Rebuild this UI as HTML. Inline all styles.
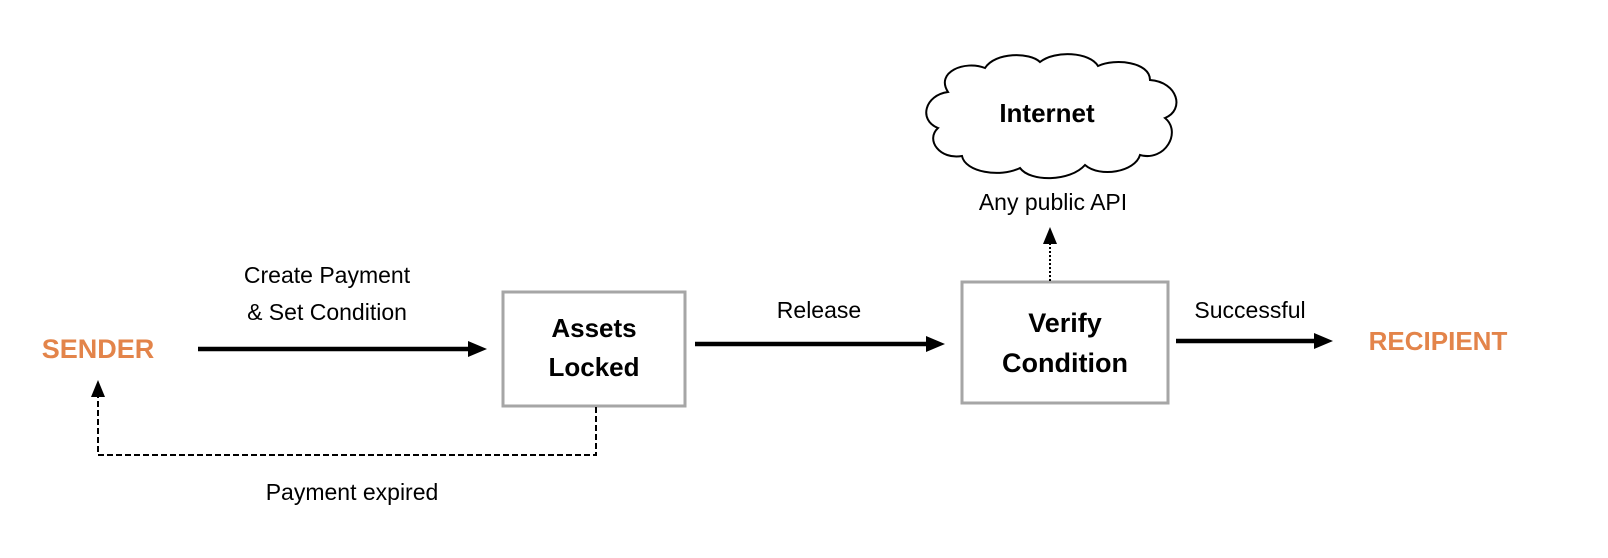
<!DOCTYPE html>
<html><head><meta charset="utf-8"><style>
html,body{margin:0;padding:0;background:#fff;}
svg{display:block;}
text{font-family:"Liberation Sans",sans-serif;}
</style></head><body>
<svg width="1608" height="558" viewBox="0 0 1608 558" xmlns="http://www.w3.org/2000/svg">
<text x="98" y="358" text-anchor="middle" font-size="27" font-weight="bold" fill="#E3844A">SENDER</text>
<line x1="198" y1="349" x2="472" y2="349" stroke="#000" stroke-width="4.5"/>
<polygon points="468,341 487,349 468,357" fill="#000"/>
<text x="327" y="283" text-anchor="middle" font-size="23">Create Payment</text>
<text x="327" y="320" text-anchor="middle" font-size="23">&amp; Set Condition</text>
<rect x="503" y="292" width="182" height="114" fill="#fff" stroke="#a6a6a6" stroke-width="3"/>
<text x="594" y="337" text-anchor="middle" font-size="26" font-weight="bold">Assets</text>
<text x="594" y="376" text-anchor="middle" font-size="26" font-weight="bold">Locked</text>
<polyline points="596,407 596,455 98,455 98,396" fill="none" stroke="#000" stroke-width="2" stroke-dasharray="6,3"/>
<polygon points="91,397 98,380 105,397" fill="#000"/>
<text x="352" y="500" text-anchor="middle" font-size="23">Payment expired</text>
<line x1="695" y1="344" x2="930" y2="344" stroke="#000" stroke-width="4.5"/>
<polygon points="926,336 945,344 926,352" fill="#000"/>
<text x="819" y="318" text-anchor="middle" font-size="23">Release</text>
<rect x="962" y="282" width="206" height="121" fill="#fff" stroke="#a6a6a6" stroke-width="3"/>
<text x="1065" y="332" text-anchor="middle" font-size="27" font-weight="bold">Verify</text>
<text x="1065" y="372" text-anchor="middle" font-size="27" font-weight="bold">Condition</text>
<line x1="1050" y1="281" x2="1050" y2="243" stroke="#000" stroke-width="2" stroke-dasharray="2,2"/>
<polygon points="1043,244 1050,227 1057,244" fill="#000"/>
<text x="1053" y="210" text-anchor="middle" font-size="23">Any public API</text>
<path d="M948,92 C935,72 965,60 985,68 C995,52 1030,52 1040,62 C1055,50 1090,52 1098,66 C1115,58 1150,62 1150,80 C1178,82 1185,110 1165,118 C1182,132 1165,162 1140,155 C1135,172 1100,178 1085,165 C1070,182 1030,182 1020,168 C1000,178 965,172 962,156 C940,160 925,140 938,128 C918,120 925,95 948,92 Z" fill="#fff" stroke="#000" stroke-width="2"/>
<text x="1047" y="122" text-anchor="middle" font-size="26" font-weight="bold">Internet</text>
<line x1="1176" y1="341" x2="1318" y2="341" stroke="#000" stroke-width="4.5"/>
<polygon points="1314,333 1333,341 1314,349" fill="#000"/>
<text x="1250" y="318" text-anchor="middle" font-size="23">Successful</text>
<text x="1438" y="350" text-anchor="middle" font-size="26" font-weight="bold" fill="#E3844A">RECIPIENT</text>
</svg>
</body></html>
